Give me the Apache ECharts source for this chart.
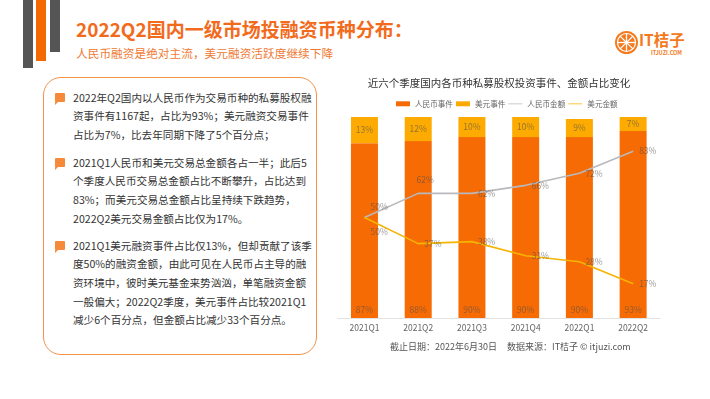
<!DOCTYPE html>
<html>
<head>
<meta charset="utf-8">
<script src="https://cdn.jsdelivr.net/npm/echarts@6/dist/echarts.min.js"></script>
<style>
  body { margin: 0; width: 710px; height: 399px; background: #fff; overflow: hidden; position: relative;
         font-family: "Noto Sans CJK SC", "Noto Sans", sans-serif; }
  .deco { position: absolute; top: 0; width: 10px; }
  .title { position: absolute; left: 76px; top: 15px; font-size: 19px; font-weight: bold; color: #f26b1d; white-space: nowrap; }
  .sub { position: absolute; left: 76px; top: 44px; font-size: 11.7px; color: #f07a33; white-space: nowrap; }
  .box { position: absolute; left: 43px; top: 77px; width: 272px; height: 276px; border: 1.5px solid #f3924a; border-radius: 18px; }
  .para { position: absolute; left: 73px; font-size: 10.6px; line-height: 18.7px; color: #333; white-space: nowrap; }
  .bullet { position: absolute; left: 55px; width: 10px; height: 9px; background: #f58a3a; border-radius: 1px; }
  .bullet:after { content: ""; position: absolute; left: 0; top: 9px; border-left: 3px solid #f58a3a; border-bottom: 3px solid transparent; }
  #chart { position: absolute; left: 330px; top: 60px; width: 338px; height: 339px; }
  .logo-t { position: absolute; left: 639px; top: 28px; font-size: 15.5px; font-weight: bold; color: #f47a20; white-space: nowrap; }
  .logo-s { position: absolute; left: 651px; top: 49px; font-size: 5.5px; font-weight: bold; color: #f47a20; white-space: nowrap; }
</style>
</head>
<body>
<div class="deco" style="left:23px;height:68px;background:#555;"></div>
<div class="deco" style="left:36px;height:61px;background:#f56a00;"></div>
<div class="deco" style="left:50px;height:52px;background:#555;"></div>
<div class="title">2022Q2国内一级市场投融资币种分布：</div>
<div class="sub">人民币融资是绝对主流，美元融资活跃度继续下降</div>

<svg style="position:absolute;left:614px;top:30px" width="25" height="25" viewBox="0 0 25 25">
  <circle cx="12.5" cy="12.5" r="11.5" fill="#f47a20"/>
  <circle cx="12.5" cy="12.5" r="9" fill="none" stroke="#fff" stroke-width="1.2"/>
  <g stroke="#fff" stroke-width="1.3">
    <line x1="12.5" y1="3.5" x2="12.5" y2="21.5"/>
    <line x1="3.5" y1="12.5" x2="21.5" y2="12.5"/>
    <line x1="6.1" y1="6.1" x2="18.9" y2="18.9"/>
    <line x1="18.9" y1="6.1" x2="6.1" y2="18.9"/>
  </g>
</svg>
<div class="logo-t">IT桔子</div>
<div class="logo-s">ITJUZI.COM</div>

<div class="box"></div>
<div class="bullet" style="top:93px"></div>
<div class="para" style="top:88.5px">2022年Q2国内以人民币作为交易币种的私募股权融<br>资事件有1167起，占比为93%；美元融资交易事件<br>占比为7%，比去年同期下降了5个百分点；</div>
<div class="bullet" style="top:158px"></div>
<div class="para" style="top:153.5px">2021Q1人民币和美元交易总金额各占一半；此后5<br>个季度人民币交易总金额占比不断攀升，占比达到<br>83%；而美元交易总金额占比呈持续下跌趋势，<br>2022Q2美元交易金额占比仅为17%。</div>
<div class="bullet" style="top:241px"></div>
<div class="para" style="top:236.5px">2021Q1美元融资事件占比仅13%，但却贡献了该季<br>度50%的融资金额，由此可见在人民币占主导的融<br>资环境中，彼时美元基金来势汹汹，单笔融资金额<br>一般偏大；2022Q2季度，美元事件占比较2021Q1<br>减少6个百分点，但金额占比减少33个百分点。</div>

<div id="chart"></div>
<script>
const quarters = ['2021Q1', '2021Q2', '2021Q3', '2021Q4', '2022Q1', '2022Q2'];
const rmbEvents = [87, 88, 90, 90, 90, 93];
const usdEvents = [13, 12, 10, 10, 9, 7];
const rmbAmount = [50, 62, 62, 66, 72, 83];
const usdAmount = [50, 37, 38, 31, 28, 17];

const labelColor = 'rgba(80,80,80,0.6)';
const font = '"Noto Sans CJK SC", "Noto Sans", sans-serif';
// thin line icon for the legend (bounding box 14x5, line in the middle)
const lineIcon = 'path://M0,0L0.01,0L0.01,0.01Z M0,2.1L14,2.1L14,2.9L0,2.9Z M14,5L13.99,5L13.99,4.99Z';

const chart = echarts.init(document.getElementById('chart'));

const rmbAmountData = rmbAmount.map((v, i) => {
    if (i === 0) return { value: v, label: { position: 'right', offset: [0, -11] } };
    if (i === 1) return { value: v, label: { position: 'top', offset: [7, -3] } };
    return v;
});
const usdAmountData = usdAmount.map((v, i) => {
    if (i === 0) return { value: v, label: { position: 'right', offset: [0, 14] } };
    return v;
});

const option = {
    textStyle: { fontFamily: font },
    title: {
        text: '近六个季度国内各币种私募股权投资事件、金额占比变化',
        left: 'center',
        top: 13,
        textStyle: { fontSize: 10.5, fontWeight: 'normal', color: '#333', fontFamily: font }
    },
    legend: {
        left: 61,
        top: 35,
        itemWidth: 14,
        itemHeight: 5,
        itemGap: 3,
        textStyle: { fontSize: 7.6, color: '#666', fontFamily: font },
        data: [
            { name: '人民币事件', icon: 'rect' },
            { name: '美元事件', icon: 'rect' },
            { name: '人民币金额', icon: lineIcon },
            { name: '美元金额', icon: lineIcon }
        ]
    },
    grid: { left: 7.6, right: 8, top: 57, bottom: 81 },
    xAxis: {
        type: 'category',
        data: quarters,
        axisTick: { show: false },
        axisLine: { lineStyle: { color: '#e3e3e3' } },
        axisLabel: { fontSize: 8.5, color: '#666', margin: 6 }
    },
    yAxis: { type: 'value', min: 0, max: 100, show: false },
    series: [
        {
            name: '人民币事件',
            type: 'bar',
            stack: 'events',
            barWidth: 27,
            data: rmbEvents,
            itemStyle: { color: '#f76b05' },
            label: { show: true, position: 'insideBottom', distance: 4, formatter: '{c}%', fontSize: 8.5, color: labelColor }
        },
        {
            name: '美元事件',
            type: 'bar',
            stack: 'events',
            data: usdEvents,
            itemStyle: { color: '#fdab00' },
            label: { show: true, position: 'inside', formatter: '{c}%', fontSize: 8.5, color: labelColor }
        },
        {
            name: '人民币金额',
            type: 'line',
            data: rmbAmountData,
            symbol: 'circle',
            symbolSize: 0,
            z: 5,
            lineStyle: { color: '#b9b9bd', width: 1.6 },
            itemStyle: { color: '#b9b9bd' },
            label: { show: true, position: 'right', distance: 6, formatter: '{c}%', fontSize: 8.5, color: labelColor }
        },
        {
            name: '美元金额',
            type: 'line',
            data: usdAmountData,
            symbol: 'circle',
            symbolSize: 0,
            z: 5,
            lineStyle: { color: '#f5b400', width: 1.6 },
            itemStyle: { color: '#f5b400' },
            label: { show: true, position: 'right', distance: 6, formatter: '{c}%', fontSize: 8.5, color: labelColor }
        }
    ],
    graphic: [
        {
            type: 'text',
            left: 181 - 121,
            top: 282,
            style: {
                text: '截止日期：2022年6月30日     数据来源：IT桔子 © itjuzi.com',
                fontSize: 9,
                fill: '#555',
                fontFamily: font
            }
        }
    ]
};

chart.setOption(option);
</script>
</body>
</html>
